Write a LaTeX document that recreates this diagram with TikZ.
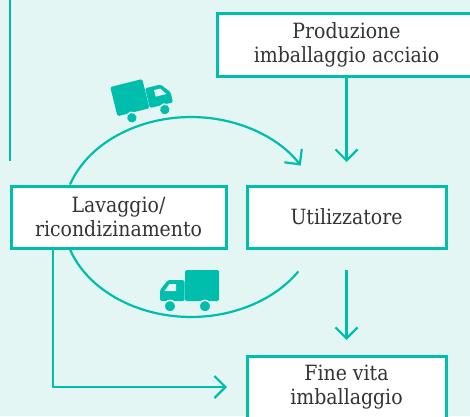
\documentclass[tikz,border=0pt]{standalone}
\usepackage{fontspec}
\setmainfont{DejaVu Serif Condensed}
\usepackage{xcolor}
\usetikzlibrary{arrows.meta}

\definecolor{tealline}{RGB}{0,190,172}
\definecolor{mintback}{RGB}{228,246,244}
\definecolor{textgray}{RGB}{51,51,51}

\tikzset{
	truck/.pic={
		\fill[tealline, rounded corners=1.5pt] (0,0) rectangle (34,31);
		\fill[tealline, rounded corners=1.5pt] (34.5,0) -- (59,0) -- (59,11) -- (51,21) -- (34.5,21) -- cycle;
		\fill[mintback] (43,10) -- (54.5,10) -- (49.5,17) -- (43,17) -- cycle;
		\foreach \wx in {14,49}
			\filldraw[fill=tealline, draw=mintback, line width=1.5pt] (\wx,-5.2) circle[radius=5.8];
	}
}

\begin{document}
\begin{tikzpicture}[x=1pt, y=1pt,
	box/.style={draw=tealline, line width=3pt, fill=white, text=textgray, align=center,
		font=\fontsize{21}{24}\selectfont, minimum height=62pt, inner sep=0pt},
	flow/.style={draw=tealline, line width=2.2pt, -{Straight Barb[length=11pt, width=22pt]}},
	loop/.style={draw=tealline, line width=2.2pt}]

	\fill[mintback] (0,0) rectangle (470,416);
	\useasboundingbox (0,0) rectangle (470,416);
	\draw[tealline, line width=2pt] (10,416) -- (10,255);

	\node[box, minimum width=258pt] (prod) at (346.5,371) {Produzione\\imballaggio acciaio};
	\node[box, minimum width=215pt] (lav) at (118.5,199) {Lavaggio/\\ricondizinamento};
	\node[box, minimum width=199pt] (util) at (346.5,199) {Utilizzatore};
	\node[box, minimum width=199pt] (fine) at (346.5,29) {Fine vita\\imballaggio};

	\draw[flow, shorten >=22.5pt] (prod.south) -- (util.north);
	\draw[flow, shorten <=20.5pt, shorten >=14.5pt] (util.south) -- (fine.north);
	\draw[flow, shorten >=18.5pt] ([xshift=-65.5pt]lav.south) |- (fine.west);

	\draw[flow] ([xshift=-48.5pt]lav.north) arc[start angle=161, end angle=31, x radius=128pt, y radius=100pt];
	\draw[loop] ([xshift=-48.5pt]lav.south) arc[start angle=199, end angle=327, x radius=128pt, y radius=100pt];

	\pic[shift={(117.5,299.8)}, rotate=14, scale=0.97] {truck};
	\pic[shift={(219,115)}, xscale=-1] {truck};
\end{tikzpicture}
\end{document}
